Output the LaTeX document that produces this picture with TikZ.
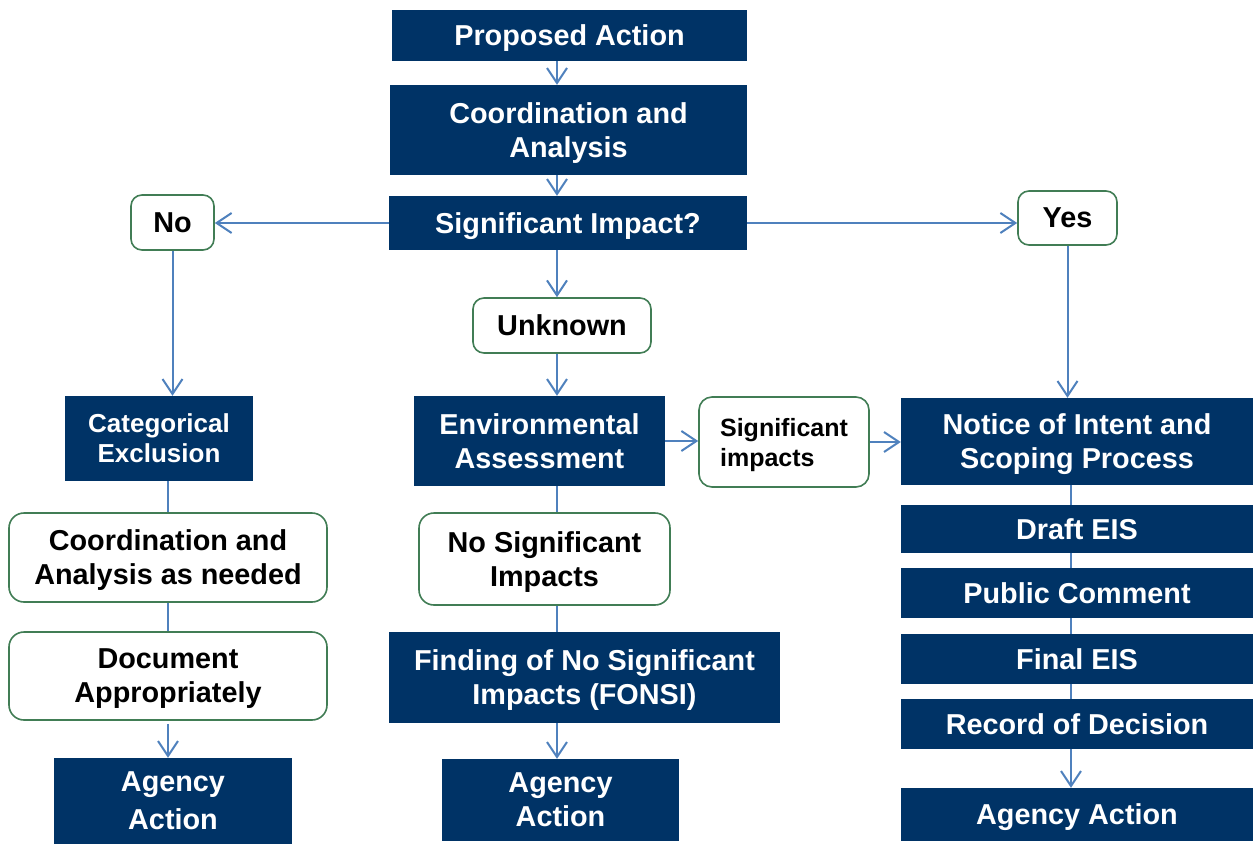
\documentclass[tikz,border=0pt]{standalone}
\usepackage{fontspec}
\setmainfont{Liberation Sans}
\usetikzlibrary{arrows.meta}
\definecolor{navy}{RGB}{0,51,102}
\definecolor{linkblue}{RGB}{79,129,189}
\definecolor{boxgreen}{RGB}{65,125,85}
\tikzset{
  darkbox/.style={fill=navy, text=white, font=\bfseries\fontsize{28.8}{34}\selectfont, align=center, inner sep=0pt, text depth=0pt},
  openbox/.style={draw=boxgreen, line width=1.6pt, rounded corners=11pt, fill=white, text=black, font=\bfseries\fontsize{28.8}{34}\selectfont, align=center, inner sep=0pt, text depth=0pt},
  link/.style={draw=linkblue, line width=2pt},
  arr/.style={link, -{Straight Barb[length=15pt,width=20pt,line width=2pt]}}
}
\begin{document}
\begin{tikzpicture}[x=1pt, y=-1pt]
\useasboundingbox (0,0) rectangle (1253,844);
\coordinate (spineL) at (168,0);
\coordinate (spineM) at (557,0);
\coordinate (spineR) at (1071,0);
\node[darkbox, minimum width=355pt, minimum height=51pt] (PA) at (569.5,35.5) {Proposed Action};
\node[darkbox, minimum width=357pt, minimum height=90pt] (CA) at (568.5,130) {Coordination and\\Analysis};
\node[darkbox, minimum width=358pt, minimum height=54pt] (SI) at (568,223) {Significant Impact?};
\node[openbox, minimum width=83pt, minimum height=55pt] (No) at (172.5,222.5) {No};
\node[openbox, minimum width=99pt, minimum height=54pt] (Yes) at (1067.5,218) {Yes};
\node[openbox, minimum width=178pt, minimum height=55pt] (UNK) at (562,325.5) {Unknown};
\node[darkbox, font=\bfseries\fontsize{26}{30}\selectfont, minimum width=188pt, minimum height=85pt] (CE) at (159,438.5) {Categorical\\Exclusion};
\node[openbox, rounded corners=15pt, minimum width=318pt, minimum height=89pt] (CAN) at (168,557.5) {Coordination and\\Analysis as needed};
\node[openbox, rounded corners=15pt, minimum width=318pt, minimum height=88pt] (DA) at (168,676) {Document\\Appropriately};
\node[darkbox, minimum width=238pt, minimum height=86pt] (AAL) at (173,801) {Agency\\[4pt]Action};
\node[darkbox, minimum width=251pt, minimum height=90pt] (EA) at (539.5,441) {Environmental\\Assessment};
\node[openbox, rounded corners=13pt, align=left, font=\bfseries\fontsize{25}{30}\selectfont, minimum width=170pt, minimum height=90pt] (SIG) at (784,442) {Significant\\impacts};
\node[openbox, rounded corners=15pt, minimum width=251pt, minimum height=92pt] (NSI) at (544.5,559) {No Significant\\Impacts};
\node[darkbox, minimum width=391pt, minimum height=91pt] (FONSI) at (584.5,677.5) {Finding of No Significant\\Impacts (FONSI)};
\node[darkbox, minimum width=237pt, minimum height=82pt] (AAM) at (560.5,800) {Agency\\Action};
\node[darkbox, minimum width=352pt, minimum height=87pt] (NOI) at (1077,441.5) {Notice of Intent and\\Scoping Process};
\node[darkbox, minimum width=352pt, minimum height=48pt] (DEIS) at (1077,529) {Draft EIS};
\node[darkbox, minimum width=352pt, minimum height=50pt] (PC) at (1077,593) {Public Comment};
\node[darkbox, minimum width=352pt, minimum height=50pt] (FEIS) at (1077,659) {Final EIS};
\node[darkbox, minimum width=352pt, minimum height=50pt] (ROD) at (1077,724) {Record of Decision};
\node[darkbox, minimum width=352pt, minimum height=53pt] (AAR) at (1077,814.5) {Agency Action};
% middle column
\draw[arr] (PA.south -| spineM) -- (CA.north -| spineM);
\draw[arr] (CA.south -| spineM) -- (SI.north -| spineM);
\draw[arr] (SI.south -| spineM) -- (UNK.north -| spineM);
\draw[arr] (UNK.south -| spineM) -- (EA.north -| spineM);
\draw[link] (EA.south -| spineM) -- (NSI.north -| spineM);
\draw[link] (NSI.south -| spineM) -- (FONSI.north -| spineM);
\draw[arr] (FONSI.south -| spineM) -- (AAM.north -| spineM);
% branches
\draw[arr] (SI.west) -- (No.east |- SI.west);
\draw[arr] (SI.east) -- (Yes.west |- SI.east);
\draw[arr] (No.south) -- (No.south |- CE.north);
\draw[arr] (Yes.south) -- (Yes.south |- NOI.north);
\draw[arr] (EA.east) -- (SIG.west |- EA.east);
\draw[arr] (SIG.east) -- (NOI.west |- SIG.east);
% left column
\draw[link] (CE.south -| spineL) -- (CAN.north -| spineL);
\draw[link] (CAN.south -| spineL) -- (DA.north -| spineL);
\draw[arr] ([yshift=-3pt]DA.south -| spineL) -- (AAL.north -| spineL);
% right column
\draw[link] (NOI.south -| spineR) -- (DEIS.north -| spineR);
\draw[link] (DEIS.south -| spineR) -- (PC.north -| spineR);
\draw[link] (PC.south -| spineR) -- (FEIS.north -| spineR);
\draw[link] (FEIS.south -| spineR) -- (ROD.north -| spineR);
\draw[arr] (ROD.south -| spineR) -- (AAR.north -| spineR);
\end{tikzpicture}
\end{document}
